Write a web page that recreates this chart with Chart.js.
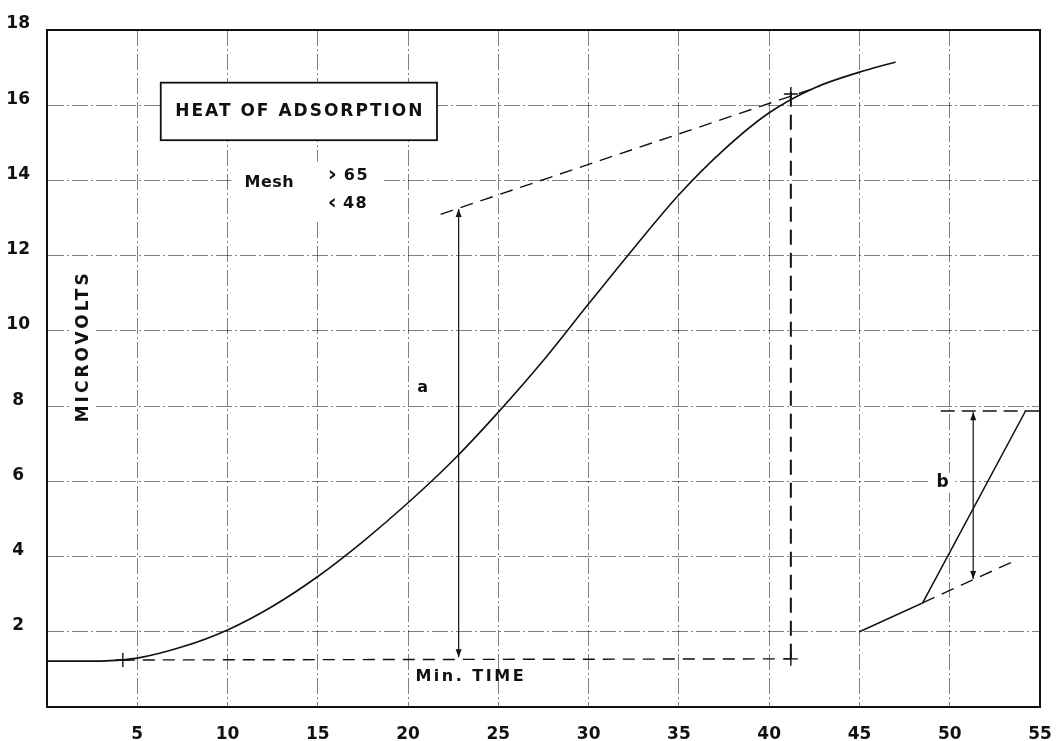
<!DOCTYPE html>
<html><head><meta charset="utf-8">
<script src="https://cdn.jsdelivr.net/npm/chart.js@4.4.1/dist/chart.umd.min.js"></script>
<style>html,body{margin:0;padding:0;background:#fff;}</style>
</head><body>
<canvas id="c" width="1058" height="741" style="display:block;width:1058px;height:741px"></canvas>
<script>
// ---- data ----
const xTicks = [5, 10, 15, 20, 25, 30, 35, 40, 45, 50, 55];
const yTicks = [2, 4, 6, 8, 10, 12, 14, 16, 18];

// main adsorption curve (minutes, microvolts)
const curveX = [0, 3, 5, 7.5, 10, 12.5, 15, 17.5, 20, 22.5, 25, 27.5, 30, 32.5, 35, 37.5, 40, 42.5, 45, 47];
const curveY = [1.22, 1.22, 1.3, 1.6, 2.05, 2.68, 3.47, 4.4, 5.43, 6.56, 7.84, 9.22, 10.72, 12.2, 13.62, 14.82, 15.8, 16.46, 16.88, 17.15];

// construction lines for "a"
const baselineX = [4.2, 41.2];  const baselineY = [1.25, 1.28];
const tangentAX = [21.8, 42.8]; const tangentAY = [13.1, 16.5];
const verticalX = [41.2, 41.2]; const verticalY = [1.28, 16.46];
const arrowAX = [22.8, 22.8];   const arrowAY = [1.32, 13.24];

// second run, right side ("b")
const stepX = [45, 48.5, 54.2, 55];  const stepY = [2.0, 2.77, 7.87, 7.87];
const tangentBX = [48.5, 53.7];      const tangentBY = [2.77, 3.91];
const topBX = [49.5, 54.2];          const topBY = [7.87, 7.87];
const arrowBX = [51.3, 51.3];        const arrowBY = [3.40, 7.84];

// cross marks
const crossX = [4.2, 41.2, 41.2];
const crossY = [1.25, 1.28, 16.3];

const FONT = "'DejaVu Sans', sans-serif";
const pts = (xs, ys) => xs.map((x, i) => ({x: x, y: ys[i]}));
const lineDS = (xs, ys, extra) => Object.assign({
  data: pts(xs, ys), borderColor: '#111', borderWidth: 1.5, pointRadius: 0,
  fill: false, tension: 0
}, extra || {});

const annotations = {
  id: 'annotations',
  beforeDatasetsDraw(chart) {
    const {ctx, scales: {x, y}} = chart;
    ctx.save();
    // title box
    const bx1 = x.getPixelForValue(6.3), bx2 = x.getPixelForValue(21.6);
    const by1 = y.getPixelForValue(16.6), by2 = y.getPixelForValue(15.07);
    ctx.fillStyle = '#fff';
    ctx.fillRect(bx1, by1, bx2 - bx1, by2 - by1);
    ctx.strokeStyle = '#111'; ctx.lineWidth = 1.8;
    ctx.strokeRect(bx1, by1, bx2 - bx1, by2 - by1);
    ctx.fillStyle = '#111';
    ctx.textAlign = 'center'; ctx.textBaseline = 'middle';
    ctx.font = 'bold 17px ' + FONT;
    ctx.letterSpacing = '2px';
    ctx.fillText('HEAT OF ADSORPTION', (bx1 + bx2) / 2 + 1, (by1 + by2) / 2);

    const label = (t, vx, vy, size, spacing, bg, bw, bh) => {
      const px = x.getPixelForValue(vx), py = y.getPixelForValue(vy);
      if (bg) { ctx.fillStyle = '#fff'; ctx.fillRect(px - bw / 2, py - bh / 2, bw, bh); }
      ctx.fillStyle = '#111';
      ctx.font = 'bold ' + size + 'px ' + FONT;
      ctx.letterSpacing = spacing + 'px';
      ctx.fillText(t, px + spacing / 2, py);
    };
    // white patch behind Mesh block
    const mx1 = x.getPixelForValue(10.2), mx2 = x.getPixelForValue(18.6);
    const my1 = y.getPixelForValue(14.5), my2 = y.getPixelForValue(12.9);
    ctx.fillStyle = '#fff'; ctx.fillRect(mx1, my1, mx2 - mx1, my2 - my1);
    label('Mesh', 12.3, 13.94, 16, 0.5);
    label('\u203A', 15.8, 14.15, 22, 0);
    label('65', 17.1, 14.12, 16, 1.5);
    label('\u2039', 15.8, 13.4, 22, 0);
    label('48', 17.05, 13.38, 16, 1.5);
    label('a', 20.8, 8.48, 16, 0, true, 16, 18);
    label('b', 49.6, 5.96, 17, 0, true, 26, 20);
    label('Min. TIME', 23.4, 0.8, 16, 2.5);

    // vertical axis title
    const vx = x.getPixelForValue(2.0), vy = y.getPixelForValue(9.55);
    ctx.translate(vx, vy); ctx.rotate(-Math.PI / 2);
    ctx.fillStyle = '#fff'; ctx.fillRect(-84, -11, 168, 22);
    ctx.fillStyle = '#111';
    ctx.font = 'bold 17px ' + FONT;
    ctx.letterSpacing = '3px';
    ctx.fillText('MICROVOLTS', 1.5, 0);
    ctx.restore();
  },
  afterDatasetsDraw(chart) {
    const {ctx, chartArea: a, scales: {x, y}} = chart;
    ctx.save();
    // frame
    ctx.strokeStyle = '#111'; ctx.lineWidth = 2;
    ctx.strokeRect(a.left, a.top, a.right - a.left, a.bottom - a.top);
    // arrow heads
    const head = (vx, vy, dir) => {
      const px = x.getPixelForValue(vx), py = y.getPixelForValue(vy);
      ctx.beginPath();
      ctx.moveTo(px, py);
      ctx.lineTo(px - 3, py - dir * 8);
      ctx.lineTo(px + 3, py - dir * 8);
      ctx.closePath();
      ctx.fillStyle = '#111'; ctx.fill();
    };
    head(arrowAX[0], arrowAY[0], 1);
    head(arrowAX[1], arrowAY[1], -1);
    head(arrowBX[0], arrowBY[0], 1);
    head(arrowBX[1], arrowBY[1], -1);
    ctx.restore();
  }
};

new Chart(document.getElementById('c').getContext('2d'), {
  type: 'line',
  data: {
    datasets: [
      lineDS(curveX, curveY, {cubicInterpolationMode: 'monotone', borderWidth: 1.6}),
      lineDS(baselineX, baselineY, {borderDash: [12, 8], borderWidth: 1.4}),
      lineDS(tangentAX, tangentAY, {borderDash: [13, 8], borderWidth: 1.4}),
      lineDS(verticalX, verticalY, {borderDash: [15, 8], borderWidth: 2}),
      lineDS(arrowAX, arrowAY, {borderWidth: 1.2}),
      lineDS(stepX, stepY, {borderWidth: 1.5}),
      lineDS(tangentBX, tangentBY, {borderDash: [13, 8], borderWidth: 1.4}),
      lineDS(topBX, topBY, {borderDash: [14, 7], borderWidth: 1.6}),
      lineDS(arrowBX, arrowBY, {borderWidth: 1.2}),
      {data: pts(crossX, crossY), showLine: false, pointStyle: 'cross', pointRadius: 7,
       pointBorderColor: '#111', pointBorderWidth: 1.4, pointBackgroundColor: '#111'}
    ]
  },
  options: {
    responsive: false, animation: false, devicePixelRatio: 1,
    layout: {padding: {top: 30, right: 18, left: 0, bottom: 0}},
    plugins: {legend: {display: false}, tooltip: {enabled: false}},
    scales: {
      x: {
        type: 'linear', min: 0, max: 55,
        afterBuildTicks(s) { s.ticks = xTicks.map(v => ({value: v})); },
        afterFit(s) { s.height = 34; s.paddingLeft = 0; s.paddingRight = 0; },
        grid: {color: 'rgba(0,0,0,0.5)', lineWidth: 1, drawTicks: false},
        border: {display: true, color: '#111', width: 2, dash: [16, 3, 2, 3]},
        ticks: {padding: 17, color: '#111', maxRotation: 0, autoSkip: false,
                font: {family: FONT, size: 17, weight: 'bold'}}
      },
      y: {
        type: 'linear', min: 0, max: 18,
        afterBuildTicks(s) { s.ticks = yTicks.map(v => ({value: v})); },
        afterFit(s) { s.width = 47; s.paddingTop = 0; s.paddingBottom = 0; },
        grid: {color: 'rgba(0,0,0,0.5)', lineWidth: 1, drawTicks: false},
        border: {display: true, color: '#111', width: 2, dash: [16, 3, 2, 3]},
        ticks: {padding: 17, crossAlign: 'center', labelOffset: -6, color: '#111',
                autoSkip: false, font: {family: FONT, size: 17, weight: 'bold'}}
      }
    }
  },
  plugins: [annotations]
});
</script>
</body></html>
